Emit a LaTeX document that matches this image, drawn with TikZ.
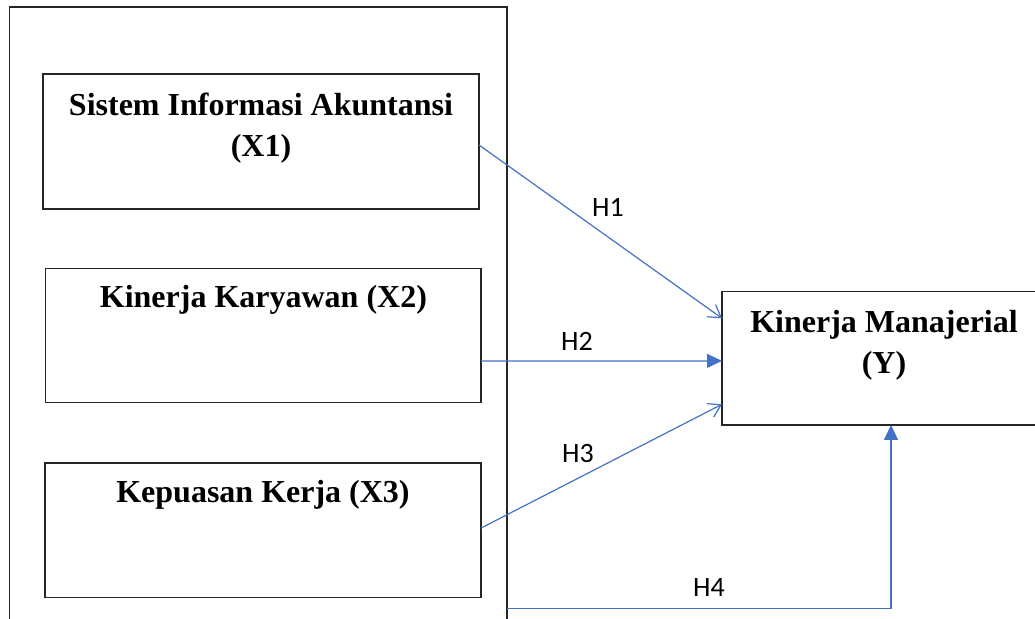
\documentclass[tikz,border=0pt]{standalone}
\usepackage{fontspec}
\setmainfont{Liberation Serif}
\newfontfamily\lblfont{Carlito}
\usetikzlibrary{arrows.meta,calc}
\definecolor{lineblue}{HTML}{4472C4}
\definecolor{boxgray}{HTML}{262626}
\tikzset{
  varbox/.style={draw=boxgray, line width=0.75pt, rectangle, inner sep=0pt, outer sep=0pt},
  vartext/.style={font=\fontsize{16}{20.5}\selectfont\bfseries, align=center, anchor=base, inner sep=0pt},
  hyp/.style={font=\lblfont\fontsize{14}{16}\selectfont, inner sep=0pt},
  conn/.style={draw=lineblue, line width=0.6pt},
  openarrow/.style={conn, -{Straight Barb[length=6pt,width=7.5pt,line width=0.6pt]}},
  fillarrow/.style={conn, -{Triangle[length=7.5pt,width=7pt]}}
}
\begin{document}
\begin{tikzpicture}[x=0.5pt,y=-0.5pt]
\useasboundingbox (0,0) rectangle (1035,619);
\clip (0,0) rectangle (1035,619);
\fill[white] (0,0) rectangle (1035,619);
% outer frame
\node[varbox, line width=0.7pt, minimum width=248.8pt, minimum height=326.5pt] (outer) at (258.2,333.6) {};
% variable boxes
\node[varbox, minimum width=218pt, minimum height=67.5pt] (x1) at (261,141.5) {};
\node[varbox, minimum width=217.7pt, minimum height=67pt] (x2) at (263.4,335.7) {};
\node[varbox, minimum width=218pt, minimum height=67.3pt] (x3) at (263,530.3) {};
\node[varbox, minimum width=163pt, minimum height=66.7pt] (ym) at (885,358.3) {};
% texts (base anchor of a two-line node = baseline of its last line)
\node[vartext] (x1t) at (261,157) {Sistem Informasi Akuntansi\\(X1)};
\node[vartext] (x2t) at (263.4,308) {Kinerja Karyawan (X2)};
\node[vartext] (x3t) at (263,502.7) {Kepuasan Kerja (X3)};
\node[vartext] (ymt) at (884,374) {Kinerja Manajerial\\(Y)};
% connectors
\draw[openarrow] ([yshift=-1.75pt]x1.east) -- ([yshift=20pt]ym.west);
\draw[fillarrow] ([yshift=-12.7pt]x2.east) -- ([yshift=-1.3pt]ym.west);
\draw[openarrow] ([yshift=1.1pt]x3.east) -- ([yshift=-23pt]ym.west);
\draw[fillarrow] ([yshift=-137.3pt]outer.east) -| ([xshift=3pt]ym.south);
% labels
\node[hyp] (h1) at (608,207) {H1};
\node[hyp] (h2) at (577,341) {H2};
\node[hyp] (h3) at (578,454) {H3};
\node[hyp] (h4) at (709,588) {H4};
\end{tikzpicture}
\end{document}
